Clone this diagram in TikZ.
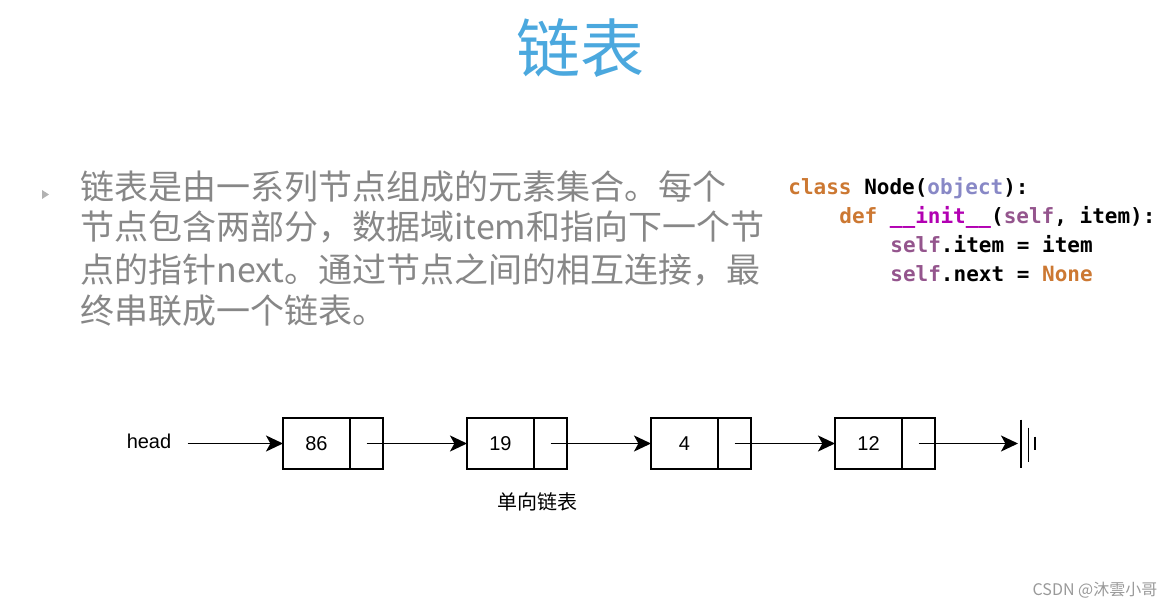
\documentclass[tikz,border=0pt]{standalone}
\usepackage{fontspec}
\usepackage{tikz}
\usetikzlibrary{arrows.meta,positioning}
\newfontfamily\cjk{Noto Sans CJK SC}
\newfontfamily\codefont{DejaVu Sans Mono}
\newfontfamily\lblfont{Liberation Sans}
\definecolor{titleblue}{RGB}{75,168,222}
\definecolor{bodygray}{RGB}{135,135,135}
\definecolor{kworange}{RGB}{204,120,50}
\definecolor{objlav}{RGB}{136,136,198}
\definecolor{initmag}{RGB}{178,0,178}
\definecolor{selfpur}{RGB}{148,85,141}

\begin{document}
\begin{tikzpicture}[x=0.5pt, y=-0.5pt, node distance=42pt]
\tikzstyle{datacell}=[draw, line width=0.9pt, outer sep=0pt, minimum width=33.5pt, minimum height=25.5pt, inner sep=0pt, font=\lblfont\fontsize{10}{12}\selectfont]
\tikzstyle{ptrcell}=[draw, line width=0.9pt, outer sep=0pt, minimum width=16.5pt, minimum height=25.5pt, inner sep=0pt]
\tikzstyle{link}=[line width=0.9pt, -{Stealth[length=8.5pt, width=8pt, inset=2.2pt]}]
\tikzstyle{bodyline}=[anchor=base west, inner sep=0pt, text=bodygray, font=\cjk\fontsize{17}{20}\selectfont]
\tikzstyle{codeline}=[anchor=base west, inner sep=0pt, font=\codefont\bfseries\fontsize{10.5}{14}\selectfont]
\useasboundingbox (0,0) rectangle (1174,610);
% title
\node[text=titleblue, font=\cjk\fontsize{32}{36}\selectfont] (title) at (580,48) {链表};
% bullet text
\fill[gray!60] (42,190) -- (49,194.5) -- (42,199) -- cycle;
\node[bodyline] (b1) at (80,199) {链表是由一系列节点组成的元素集合。每个};
\node[bodyline] (b2) at (80,240) {节点包含两部分，数据域item和指向下一个节};
\node[bodyline] (b3) at (80,282) {点的指针next。通过节点之间的相互连接，最};
\node[bodyline] (b4) at (80,323) {终串联成一个链表。};
% python code
\node[codeline] (c1) at (788,195) {\textcolor{kworange}{class} Node(\textcolor{objlav}{object}):};
\node[codeline] (c2) at (839,224) {\textcolor{kworange}{def} \textcolor{initmag}{\_\_init\_\_}(\textcolor{selfpur}{self}, item):};
\node[codeline] (c3) at (890,252) {\textcolor{selfpur}{self}.item = item};
\node[codeline] (c4) at (890,281) {\textcolor{selfpur}{self}.next = \textcolor{kworange}{None}};
% linked list
\node[font=\lblfont\fontsize{10}{12}\selectfont, inner sep=2pt] (head) at (149,441) {head};
\node[datacell] (d1) at (316.5,443.5) {86};
\node[ptrcell, right=0pt of d1] (p1) {};
\node[datacell, right=of p1] (d2) {19};
\node[ptrcell, right=0pt of d2] (p2) {};
\node[datacell, right=of p2] (d3) {4};
\node[ptrcell, right=0pt of d3] (p3) {};
\node[datacell, right=of p3] (d4) {12};
\node[ptrcell, right=0pt of d4] (p4) {};
\coordinate[right=43pt of p4] (nil);
\draw[link] (head.east |- d1.west) ++(6pt,0) -- (d1.west);
\foreach \x/\y in {p1/d2,p2/d3,p3/d4}{\draw[link] (\x.center) -- (\y.west);}
\draw[link] (p4.center) -- ([xshift=-1.5pt]nil);
\draw[line width=0.9pt] ([yshift=12pt]nil) -- ([yshift=-12pt]nil);
\draw[line width=0.9pt] ([xshift=3.7pt, yshift=8pt]nil) -- ([xshift=3.7pt, yshift=-9pt]nil);
\draw[line width=0.9pt] ([xshift=7pt, yshift=3.5pt]nil) -- ([xshift=7pt, yshift=-3pt]nil);
\node[font=\cjk\fontsize{10}{12}\selectfont] (cap) at (537,502) {单向链表};
% watermark
\node[text=gray!80, font=\cjk\fontsize{8}{10}\selectfont] (mark) at (1095,590) {CSDN @沐雲小哥};
\end{tikzpicture}
\end{document}
